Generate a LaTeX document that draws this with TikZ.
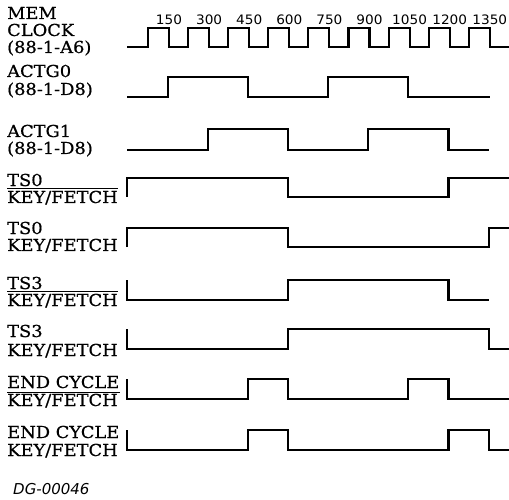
\documentclass[tikz,border=0pt]{standalone}
\usepackage{fontspec}
\newfontfamily\lblfont[FakeStretch=1.08,FakeBold=0.6]{DejaVu Serif}
\newfontfamily\numfont[FakeStretch=1.05]{DejaVu Sans}
\newfontfamily\tagfont{DejaVu Sans Oblique}
\begin{document}
\begin{tikzpicture}[x=1pt,y=-1pt,
  wave/.style={line width=2.1pt,line join=miter},
  lbl/.style={anchor=base west,inner sep=0pt,font=\lblfont\fontsize{16.5}{16.5}\selectfont},
  tick/.style={anchor=center,inner sep=0pt,font=\numfont\fontsize{13}{13}\selectfont},
  bar/.style={line width=1pt}]
\useasboundingbox (0,0) rectangle (509,500);
% labels
\node[lbl] (mem1) at (7,19) {MEM};
\node[lbl] (mem2) at (7,36) {CLOCK};
\node[lbl] (mem3) at (7,53) {(88-1-A6)};
\node[lbl] (a01) at (7,77) {ACTG0};
\node[lbl] (a02) at (7,95) {(88-1-D8)};
\node[lbl] (a11) at (7,137) {ACTG1};
\node[lbl] (a12) at (7,154) {(88-1-D8)};
\node[lbl] (tb1) at (7,186) {TS0};
\node[lbl] (tb2) at (7,203) {KEY/FETCH};
\node[lbl] (t01) at (7,234) {TS0};
\node[lbl] (t02) at (7,251) {KEY/FETCH};
\node[lbl] (sb1) at (7,289) {TS3};
\node[lbl] (sb2) at (7,306) {KEY/FETCH};
\node[lbl] (s31) at (7,337) {TS3};
\node[lbl] (s32) at (7,356) {KEY/FETCH};
\node[lbl] (eb1) at (7,388) {END CYCLE};
\node[lbl] (eb2) at (7,406) {KEY/FETCH};
\node[lbl] (e01) at (7,438) {END CYCLE};
\node[lbl] (e02) at (7,456) {KEY/FETCH};
\draw[bar] ([yshift=14.5pt]tb2.base west) -- ([yshift=14.5pt]tb2.base east);
\draw[bar] ([yshift=14.5pt]sb2.base west) -- ([yshift=14.5pt]sb2.base east);
\draw[bar] ([yshift=13.5pt]eb2.base west) -- ([yshift=13.5pt,xshift=2pt]eb2.base east);
% time ticks
\foreach \t/\x in {150/169,300/209.1,450/249.2,600/289.3,750/329.4,900/369.5,1050/409.6,1200/449.7,1350/489.8}
  \node[tick] (n\t) at (\x,20) {\t};
\node[anchor=base west,inner sep=0pt,font=\tagfont\fontsize{15}{15}\selectfont] (dg) at (13,494) {DG-00046};
% waveforms
\draw[wave] (127,47) -- (148,47) -- (148,28) -- (169,28) -- (169,47)
  -- (188,47) -- (188,28) -- (209.1,28) -- (209.1,47)
  -- (228.2,47) -- (228.2,28) -- (249.2,28) -- (249.2,47)
  -- (268.3,47) -- (268.3,28) -- (289.3,28) -- (289.3,47)
  -- (308.4,47) -- (308.4,28) -- (329.4,28) -- (329.4,47)
  -- (348.5,47) -- (348.5,28) -- (369.5,28) -- (369.5,47)
  -- (388.6,47) -- (388.6,28) -- (409.6,28) -- (409.6,47)
  -- (428.7,47) -- (428.7,28) -- (449.7,28) -- (449.7,47)
  -- (468.8,47) -- (468.8,28) -- (489.8,28) -- (489.8,47) -- (512,47);
\draw[wave] (127,97) -- (167.6,97) -- (167.6,77) -- (247.9,77) -- (247.9,97)
  -- (328.1,97) -- (328.1,77) -- (408.4,77) -- (408.4,97) -- (490,97);
\draw[wave] (127,150) -- (207.8,150) -- (207.8,129) -- (288,129) -- (288,150)
  -- (368.3,150) -- (368.3,129) -- (448.5,129) -- (448.5,150) -- (489,150);
\draw[wave] (127,197) -- (127,178) -- (288,178) -- (288,197) -- (448.5,197)
  -- (448.5,178) -- (512,178);
\draw[wave] (127,247) -- (127,228) -- (288,228) -- (288,247) -- (488.6,247)
  -- (488.6,228) -- (512,228);
\draw[wave] (127,280) -- (127,300) -- (288,300) -- (288,280) -- (448.5,280)
  -- (448.5,300) -- (489,300);
\draw[wave] (127,329) -- (127,349) -- (288,349) -- (288,329) -- (488.6,329)
  -- (488.6,349) -- (512,349);
\draw[wave] (127,379) -- (127,399) -- (247.9,399) -- (247.9,379) -- (288,379)
  -- (288,399) -- (408.4,399) -- (408.4,379) -- (448.5,379) -- (448.5,399) -- (512,399);
\draw[wave] (127,430) -- (127,450) -- (247.9,450) -- (247.9,430) -- (288,430)
  -- (288,450) -- (448.5,450) -- (448.5,430) -- (488.6,430) -- (488.6,450) -- (512,450);
\end{tikzpicture}
\end{document}
